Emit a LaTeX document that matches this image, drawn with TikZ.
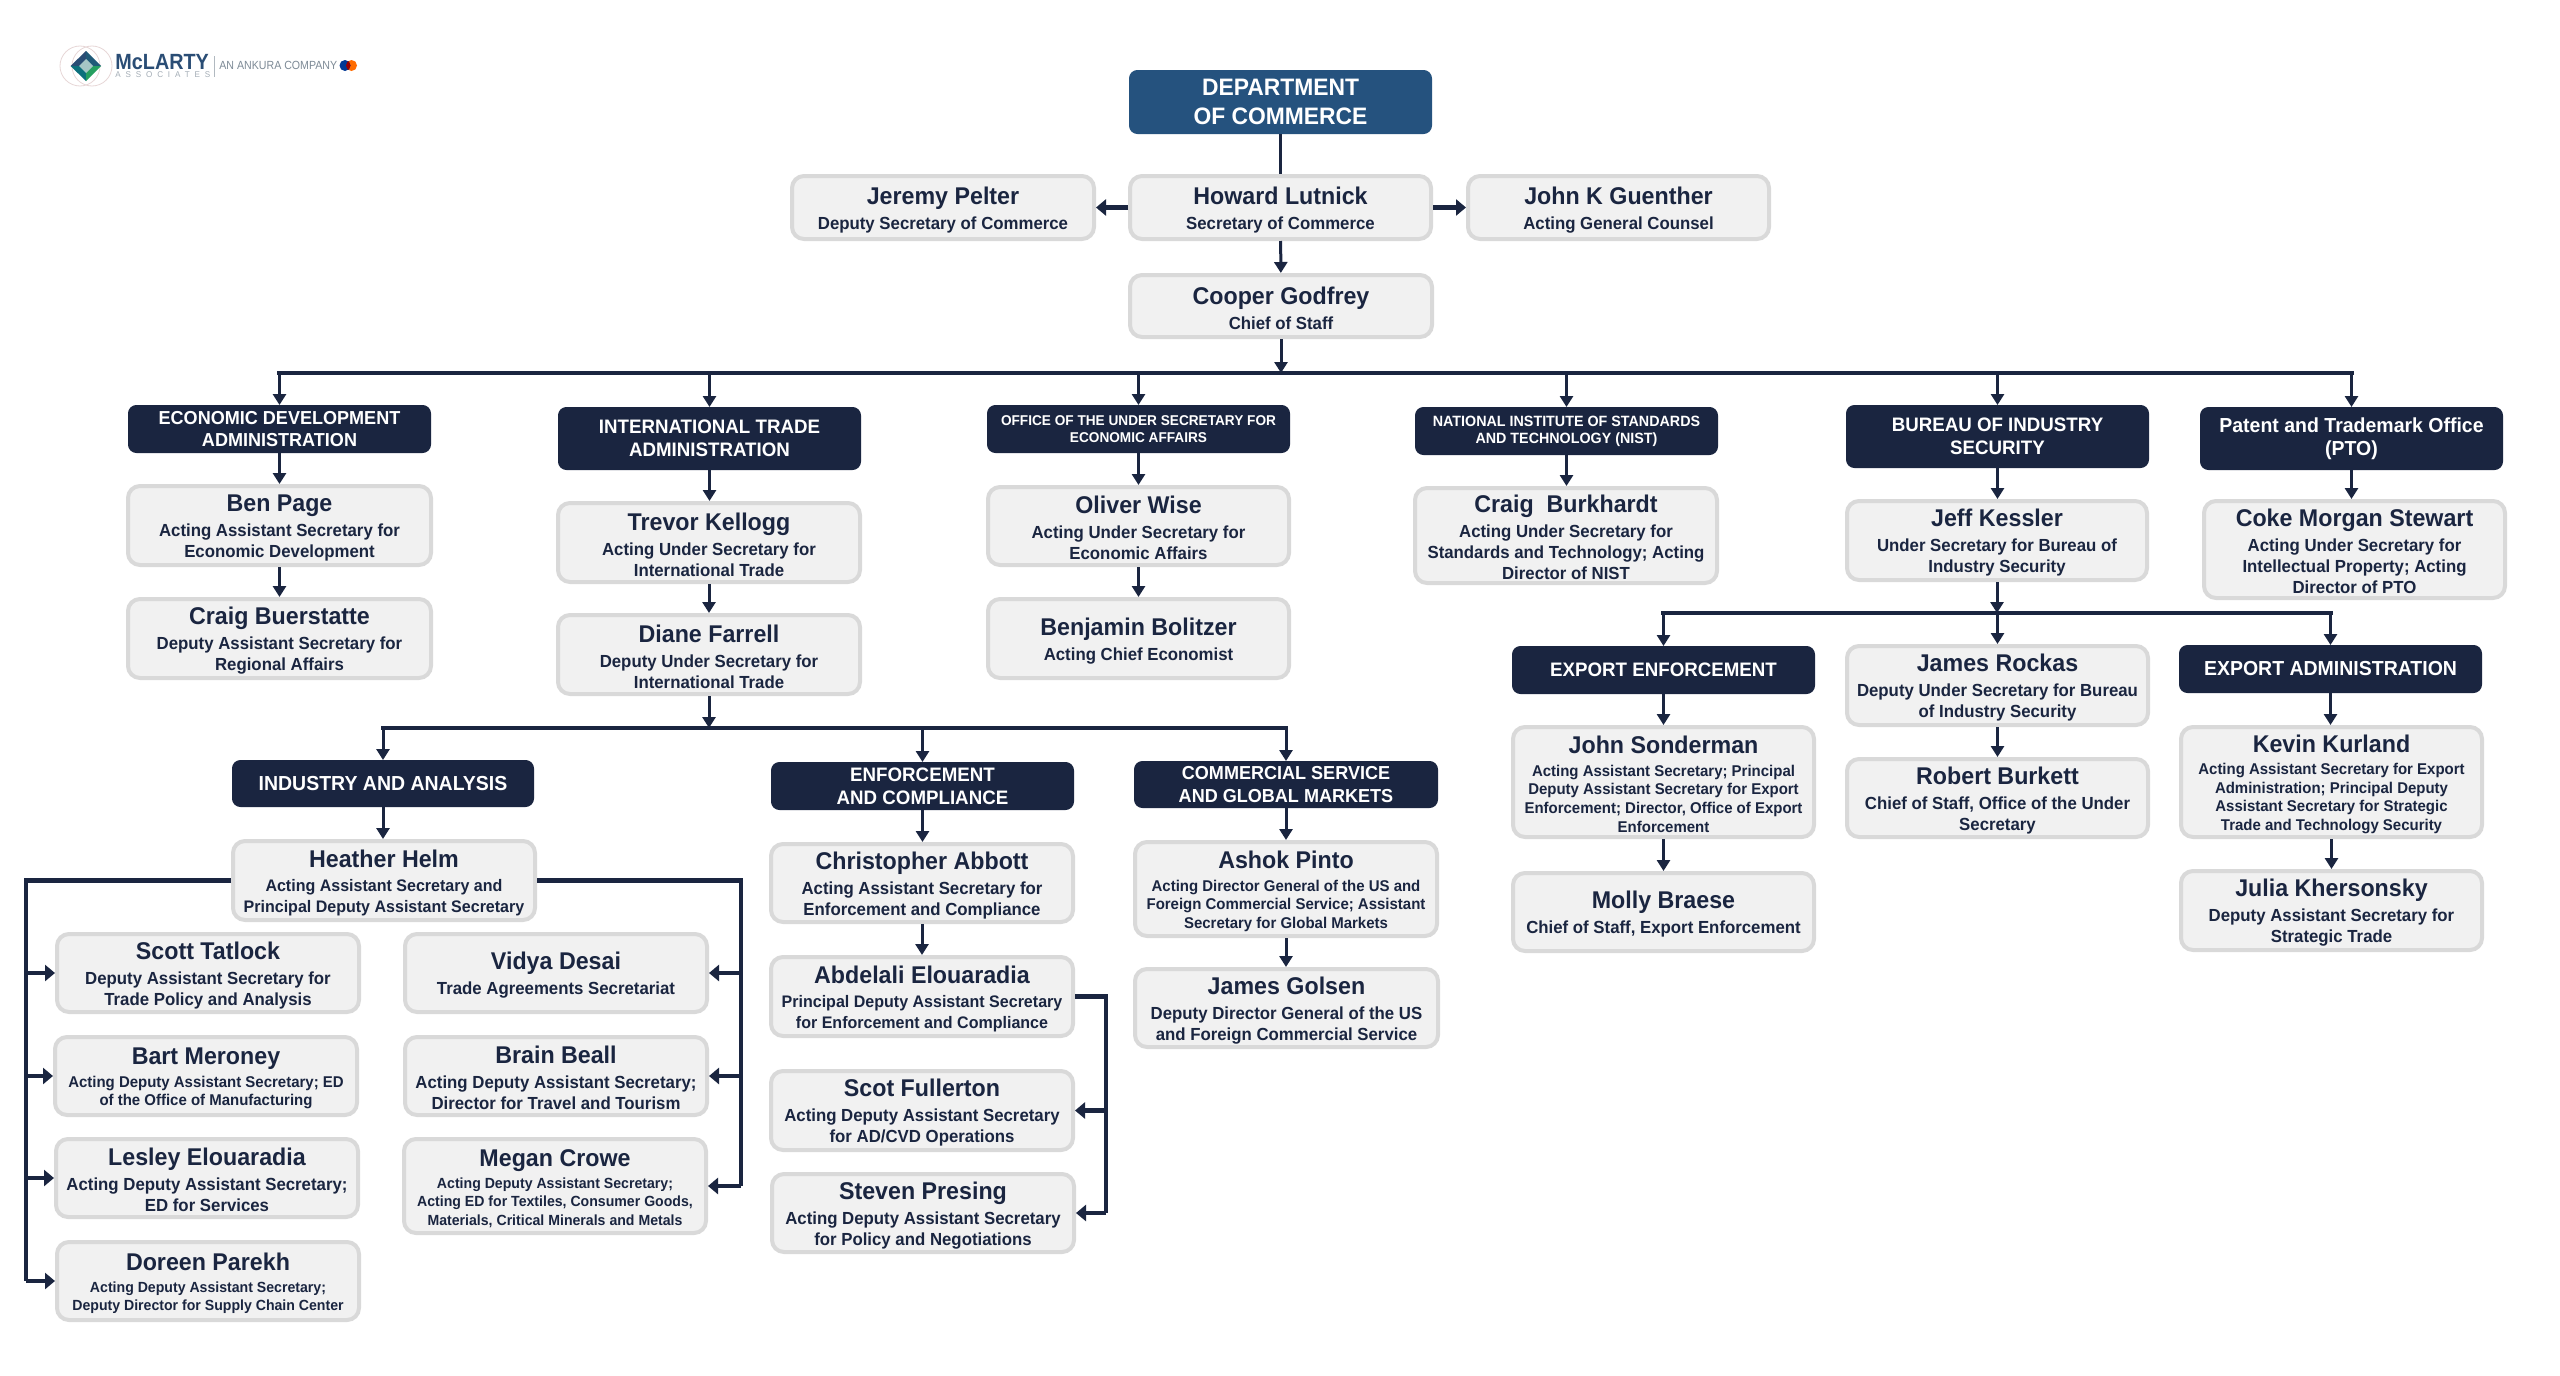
\documentclass[tikz,border=0pt]{standalone}
\usepackage{fontspec}
\setmainfont{Liberation Sans}[FakeStretch=0.96]
\newfontfamily\logofont{Liberation Sans}[FakeStretch=0.9]
\usetikzlibrary{arrows.meta,calc}
\definecolor{navy}{HTML}{1A2540}
\definecolor{docblue}{HTML}{25527E}
\definecolor{boxfill}{HTML}{F1F1F1}
\definecolor{boxline}{HTML}{D9D9D9}
\definecolor{logoblue}{HTML}{2A4D75}
\definecolor{logogray}{HTML}{7D8A96}
\newcommand{\nm}{\fontsize{12.1}{13}\selectfont\bfseries\rule{0pt}{11pt}}
\newcommand{\bxgeneric}[8]{%
  \pgfmathsetmacro\bxcx{(#4+#6)/2}\pgfmathsetmacro\bxcy{(#5+#7)/2}%
  \pgfmathsetmacro\bxw{(#6-#4)*0.5-#2}\pgfmathsetmacro\bxh{(#7-#5)*0.5-#2}%
  \node[#1,minimum width=\bxw pt,minimum height=\bxh pt] (#3) at (\bxcx,\bxcy) {#8};}
\newcommand{\pb}[7][pbox]{\bxgeneric{#1}{2}{#2}{#3}{#4}{#5}{#6}{#7}}
\newcommand{\hd}[7][hbox]{\bxgeneric{#1}{0.5}{#2}{#3}{#4}{#5}{#6}{#7}}
\tikzset{
  pbox/.style={draw=boxline,fill=boxfill,line width=2pt,rounded corners=6pt,align=center,inner sep=0pt,text=navy,font=\fontsize{8.75}{10.5}\selectfont\bfseries},
  pbm/.style={pbox,font=\fontsize{8.35}{10.2}\selectfont\bfseries},
  pbs/.style={pbox,font=\fontsize{7.8}{9.3}\selectfont\bfseries},
  pbxs/.style={pbox,font=\fontsize{7.35}{9.1}\selectfont\bfseries},
  hbox/.style={draw=navy,fill=navy,line width=0.5pt,rounded corners=4pt,align=center,inner sep=0pt,text=white,font=\fontsize{9.75}{11.3}\selectfont\bfseries},
  hnar/.style={hbox,font=\fontsize{9.4}{11.3}\selectfont\bfseries},
  hwid/.style={hbox,font=\fontsize{10.15}{11.3}\selectfont\bfseries},
  hsmall/.style={hbox,font=\fontsize{7.1}{8.6}\selectfont\bfseries},
  hsmaller/.style={hbox,font=\fontsize{7.45}{8.6}\selectfont\bfseries},
  hdoc/.style={hbox,draw=docblue,fill=docblue,font=\fontsize{11.9}{14.5}\selectfont\bfseries},
  arr/.style={draw=navy,line width=1.5pt,-{Triangle[length=5.5pt,width=6.5pt]}},
  arrh/.style={draw=navy,line width=2.2pt,-{Triangle[length=5pt,width=8pt]}},
  plain/.style={draw=navy,line width=1.7pt},
  bus/.style={draw=navy,line width=2.4pt,line cap=rect},
}
\begin{document}
\begin{tikzpicture}[x=0.5pt,y=-0.5pt]
\useasboundingbox (0,0) rectangle (2560,1376);
\fill[white] (0,0) rectangle (2560,1376);
% logo
\draw[draw=red!25!gray!25,line width=0.4pt] (80,66) circle (20);
\draw[draw=red!25!gray!25,line width=0.4pt] (92,66) circle (20);
\fill[logoblue] (86,51) -- (70.5,66) -- (86,66) -- cycle;
\fill[logoblue!75!teal] (86,51) -- (101,66) -- (86,66) -- cycle;
\fill[teal!70!logoblue] (70.5,66) -- (86,81) -- (86,66) -- cycle;
\fill[green!35!teal!70!gray] (101,66) -- (86,81) -- (86,66) -- cycle;
\fill[gray!45!teal!45] (86,59) -- (93,66) -- (86,73) -- (79,66) -- cycle;
\node[inner sep=0pt,anchor=west,text=logoblue,font=\logofont\fontsize{11}{11}\selectfont\bfseries] (mclarty) at (115,62.5) {McLARTY};
\node[inner sep=0pt,anchor=west,text=logogray!70,font=\fontsize{4.2}{4.2}\selectfont\addfontfeature{LetterSpace=58}] (assoc) at (115,75) {ASSOCIATES};
\node[inner sep=0pt,anchor=west,text=logogray,font=\logofont\fontsize{5.9}{6.3}\selectfont] (ankura) at (219,65.5) {AN ANKURA COMPANY};
\coordinate (divT) at (214,56); \coordinate (divB) at (214,77);
\draw[logogray!60,line width=0.3pt] (divT) -- (divB);
\fill[orange!85!red] (351.5,65.5) circle (5.5);
\fill[blue!45!teal!80!black] (345,65.5) circle (5.5);
\begin{scope}
\clip (351.5,65.5) circle (5.5);
\fill[red!60!black] (345,65.5) circle (5.5);
\end{scope}
% top
\hd[hdoc]{doc}{1129}{70}{1432}{134}{DEPARTMENT\\OF COMMERCE}
\pb{pelter}{790}{174}{1096}{241}{\nm Jeremy Pelter\\[2pt]Deputy Secretary of Commerce}
\pb{lutnick}{1128}{174}{1433}{241}{\nm Howard Lutnick\\[2pt]Secretary of Commerce}
\pb{guenther}{1466}{174}{1771}{241}{\nm John K Guenther\\[2pt]Acting General Counsel}
\pb{godfrey}{1128}{273}{1434}{339}{\nm Cooper Godfrey\\[2pt]Chief of Staff}
% heads row
\hd[hnar]{eda}{128}{405}{431}{453}{ECONOMIC DEVELOPMENT\\ADMINISTRATION}
\hd{ita}{558}{407}{861}{470}{INTERNATIONAL TRADE\\ADMINISTRATION}
\hd[hsmall]{usea}{987}{405}{1290}{453}{OFFICE OF THE UNDER SECRETARY FOR\\ECONOMIC AFFAIRS}
\hd[hsmaller]{nist}{1415}{407}{1718}{455}{NATIONAL INSTITUTE OF STANDARDS\\AND TECHNOLOGY (NIST)}
\hd{bis}{1846}{405}{2149}{468}{BUREAU OF INDUSTRY\\SECURITY}
\hd[hwid]{pto}{2200}{407}{2503}{470}{Patent and Trademark Office\\(PTO)}
% EDA
\pb{page}{126}{484}{433}{567}{\nm Ben Page\\[2pt]Acting Assistant Secretary for\\Economic Development}
\pb{buerstatte}{126}{597}{433}{680}{\nm Craig Buerstatte\\[2pt]Deputy Assistant Secretary for\\Regional Affairs}
% ITA
\pb{kellogg}{556}{501}{862}{584}{\nm Trevor Kellogg\\[2pt]Acting Under Secretary for\\International Trade}
\pb{farrell}{556}{613}{862}{696}{\nm Diane Farrell\\[2pt]Deputy Under Secretary for\\International Trade}
% USEA
\pb{wise}{986}{485}{1291}{567}{\nm Oliver Wise\\[2pt]Acting Under Secretary for\\Economic Affairs}
\pb{bolitzer}{986}{597}{1291}{680}{\nm Benjamin Bolitzer\\[2pt]Acting Chief Economist}
% NIST
\pb{burkhardt}{1413}{486}{1719}{585}{\nm Craig\ \ Burkhardt\\[2pt]Acting Under Secretary for\\Standards and Technology; Acting\\Director of NIST}
% BIS
\pb{kessler}{1845}{499}{2149}{582}{\nm Jeff Kessler\\[2pt]Under Secretary for Bureau of\\Industry Security}
\hd{ee}{1512}{646}{1815}{694}{EXPORT ENFORCEMENT}
\pb{rockas}{1845}{644}{2150}{727}{\nm James Rockas\\[2pt]Deputy Under Secretary for Bureau\\of Industry Security}
\hd[hwid]{ea}{2179}{645}{2482}{693}{EXPORT ADMINISTRATION}
\pb[pbs]{sonderman}{1511}{725}{1816}{839}{\nm John Sonderman\\[2pt]Acting Assistant Secretary; Principal\\Deputy Assistant Secretary for Export\\Enforcement; Director, Office of Export\\Enforcement}
\pb{burkett}{1845}{757}{2150}{839}{\nm Robert Burkett\\[2pt]Chief of Staff, Office of the Under\\Secretary}
\pb[pbs]{kurland}{2179}{725}{2484}{839}{\nm Kevin Kurland\\[2pt]Acting Assistant Secretary for Export\\Administration; Principal Deputy\\Assistant Secretary for Strategic\\Trade and Technology Security}
\pb{braese}{1511}{871}{1816}{953}{\nm Molly Braese\\[2pt]Chief of Staff, Export Enforcement}
\pb{khersonsky}{2179}{869}{2484}{952}{\nm Julia Khersonsky\\[2pt]Deputy Assistant Secretary for\\Strategic Trade}
% PTO
\pb{stewart}{2202}{499}{2507}{600}{\nm Coke Morgan Stewart\\[2pt]Acting Under Secretary for\\Intellectual Property; Acting\\Director of PTO}
% ITA subs
\hd[hwid]{ia}{232}{760}{534}{807}{INDUSTRY AND ANALYSIS}
\hd{ec}{771}{762}{1074}{810}{ENFORCEMENT\\AND COMPLIANCE}
\hd[hnar]{cs}{1134}{761}{1438}{808}{COMMERCIAL SERVICE\\AND GLOBAL MARKETS}
\pb[pbm]{helm}{231}{839}{537}{922}{\nm Heather Helm\\[2pt]Acting Assistant Secretary and\\Principal Deputy Assistant Secretary}
\pb{tatlock}{55}{932}{361}{1014}{\nm Scott Tatlock\\[2pt]Deputy Assistant Secretary for\\Trade Policy and Analysis}
\pb{desai}{403}{932}{709}{1014}{\nm Vidya Desai\\[2pt]Trade Agreements Secretariat}
\pb[pbs]{meroney}{53}{1035}{359}{1117}{\nm Bart Meroney\\[2pt]Acting Deputy Assistant Secretary; ED\\of the Office of Manufacturing}
\pb{beall}{403}{1035}{709}{1117}{\nm Brain Beall\\[2pt]Acting Deputy Assistant Secretary;\\Director for Travel and Tourism}
\pb{lesley}{54}{1137}{360}{1219}{\nm Lesley Elouaradia\\[2pt]Acting Deputy Assistant Secretary;\\ED for Services}
\pb[pbxs]{crowe}{402}{1137}{708}{1235}{\nm Megan Crowe\\[2pt]Acting Deputy Assistant Secretary;\\Acting ED for Textiles, Consumer Goods,\\Materials, Critical Minerals and Metals}
\pb[pbxs]{parekh}{55}{1240}{361}{1322}{\nm Doreen Parekh\\[2pt]Acting Deputy Assistant Secretary;\\Deputy Director for Supply Chain Center}
\pb{abbott}{769}{842}{1075}{924}{\nm Christopher Abbott\\[2pt]Acting Assistant Secretary for\\Enforcement and Compliance}
\pb[pbm]{abdelali}{769}{955}{1075}{1038}{\nm Abdelali Elouaradia\\[2pt]Principal Deputy Assistant Secretary\\for Enforcement and Compliance}
\pb{fullerton}{769}{1069}{1075}{1152}{\nm Scot Fullerton\\[2pt]Acting Deputy Assistant Secretary\\for AD/CVD Operations}
\pb{presing}{770}{1172}{1076}{1254}{\nm Steven Presing\\[2pt]Acting Deputy Assistant Secretary\\for Policy and Negotiations}
\pb[pbs]{pinto}{1133}{840}{1439}{938}{\nm Ashok Pinto\\[2pt]Acting Director General of the US and\\Foreign Commercial Service; Assistant\\Secretary for Global Markets}
\pb{golsen}{1133}{967}{1440}{1049}{\nm James Golsen\\[2pt]Deputy Director General of the US\\and Foreign Commercial Service}
% connectors: top
\draw[plain] (doc) -- (lutnick);
\draw[arrh] (lutnick) -- (pelter);
\draw[arrh] (lutnick) -- (guenther);
\draw[arr] (lutnick) -- (godfrey);
\coordinate (busA) at (1281,373);
\draw[arr] (godfrey) -- (godfrey.south |- busA);
\draw[bus] (eda.north |- busA) -- (pto.north |- busA);
\foreach \h in {eda,ita,usea,nist,bis,pto}{\draw[arr] (\h.north |- busA) -- (\h.north);}
\draw[arr] (eda.south) -- (eda.south |- page.north);
\draw[arr] (page.south) -- (page.south |- buerstatte.north);
\draw[arr] (ita.south) -- (ita.south |- kellogg.north);
\draw[arr] (kellogg.south) -- (kellogg.south |- farrell.north);
\draw[arr] (usea.south) -- (usea.south |- wise.north);
\draw[arr] (wise.south) -- (wise.south |- bolitzer.north);
\draw[arr] (nist.south) -- (nist.south |- burkhardt.north);
\draw[arr] (bis.south) -- (bis.south |- kessler.north);
\draw[arr] (pto.south) -- (pto.south |- stewart.north);
% BIS bus
\coordinate (busB) at (1997,613);
\draw[arr] (kessler.south) -- (kessler.south |- busB);
\draw[bus] (ee.north |- busB) -- (ea.north |- busB);
\draw[arr] (ee.north |- busB) -- (ee.north);
\draw[arr] (rockas.north |- busB) -- (rockas.north);
\draw[arr] (ea.north |- busB) -- (ea.north);
\draw[arr] (ee.south) -- (ee.south |- sonderman.north);
\draw[arr] (sonderman.south) -- (sonderman.south |- braese.north);
\draw[arr] (rockas.south) -- (rockas.south |- burkett.north);
\draw[arr] (ea.south) -- (ea.south |- kurland.north);
\draw[arr] (kurland.south) -- (kurland.south |- khersonsky.north);
% ITA bus
\coordinate (busC) at (709,728);
\draw[arr] (farrell.south) -- (farrell.south |- busC);
\draw[bus] (ia.north |- busC) -- (cs.north |- busC);
\draw[arr] (ia.north |- busC) -- (ia.north);
\draw[arr] (ec.north |- busC) -- (ec.north);
\draw[arr] (cs.north |- busC) -- (cs.north);
\draw[arr] (ia.south) -- (ia.south |- helm.north);
\draw[arr] (ec.south) -- (ec.south |- abbott.north);
\draw[arr] (abbott.south) -- (abbott.south |- abdelali.north);
\draw[arr] (cs.south) -- (cs.south |- pinto.north);
\draw[arr] (pinto.south) -- (pinto.south |- golsen.north);
% side trunks
\coordinate (trunkL) at (26,880);
\coordinate (trunkR) at (741,880);
\coordinate (trunkE) at (1106,997);
\draw[bus,line cap=butt] (helm.west) -| (trunkL |- parekh.west);
\draw[bus,line cap=butt] (helm.east) -| (trunkR |- crowe.east);
\draw[bus,line cap=butt] (abdelali.east) -| (trunkE |- presing.east);
\foreach \h in {tatlock,meroney,lesley,parekh}{\draw[arrh] (trunkL |- \h.west) -- (\h.west);}
\foreach \h in {desai,beall,crowe}{\draw[arrh] (trunkR |- \h.east) -- (\h.east);}
\foreach \h in {fullerton,presing}{\draw[arrh] (trunkE |- \h.east) -- (\h.east);}
\end{tikzpicture}
\end{document}
